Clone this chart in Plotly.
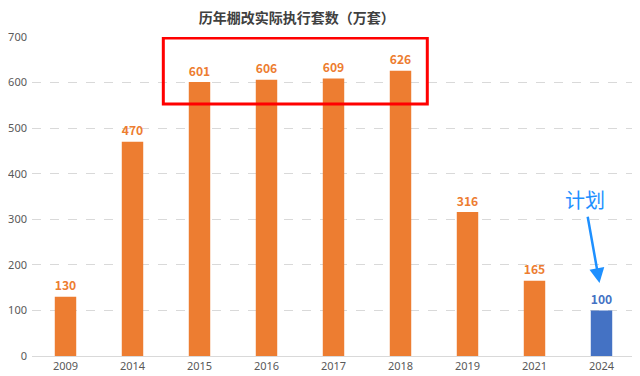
import plotly.graph_objects as go

years = ["2009", "2014", "2015", "2016", "2017", "2018", "2019", "2021", "2024"]
values = [130, 470, 601, 606, 609, 626, 316, 165, 100]
bar_colors = ["#ED7D31"] * 8 + ["#4472C4"]
label_colors = ["#ED7D31"] * 8 + ["#4472C4"]

fig = go.Figure(go.Bar(
    x=years, y=values,
    marker=dict(color=bar_colors, line=dict(width=0)),
    width=0.32,
    text=[str(v) for v in values],
    textposition="outside",
    textfont=dict(family="Noto Sans CJK SC, Noto Sans, sans-serif", size=14, color=label_colors, weight="bold"),
    cliponaxis=False,
))

# page body has an 8px margin, so the figure is sized to fit the visible window
fig.update_layout(
    width=632, height=368,
    margin=dict(l=24, r=5, t=29, b=20),
    paper_bgcolor="white", plot_bgcolor="white",
    showlegend=False,
    title=dict(text="<b>历年棚改实际执行套数（万套）</b>", x=0.457, xanchor="center", y=1, yanchor="top",
               pad=dict(t=5, b=0),
               font=dict(family="Noto Sans CJK SC, sans-serif", size=14, color="#404040")),
    xaxis=dict(type="category", automargin=False,
               tickfont=dict(family="Noto Sans, sans-serif", size=11, color="#595959"),
               showline=True, linecolor="#d9d9d9", linewidth=1, ticks="", showgrid=False),
    yaxis=dict(range=[0, 700], dtick=100, automargin=False,
               tickfont=dict(family="Noto Sans, sans-serif", size=11, color="#595959"),
               showgrid=True, gridcolor="#d9d9d9", griddash="dash", gridwidth=1, zeroline=False, ticks="",
               ticklabelstandoff=4),
    bargap=0.68,
)

fig.add_shape(type="rect", xref="x", yref="y", x0=1.46, x1=5.4, y0=553, y1=698,
              line=dict(color="#FF0000", width=3), layer="above")

fig.add_annotation(xref="x", yref="y", x=7.97, y=160, axref="x", ayref="y", ax=7.79, ay=309,
                   text="", showarrow=True, arrowhead=2, arrowsize=1.2, arrowwidth=2.5, arrowcolor="#1E90FF")
fig.add_annotation(xref="x", yref="y", x=7.76, y=344, text="计划", showarrow=False,
                   font=dict(family="Noto Sans CJK SC, sans-serif", size=20, color="#1E90FF"))

fig.write_html("out.html")
